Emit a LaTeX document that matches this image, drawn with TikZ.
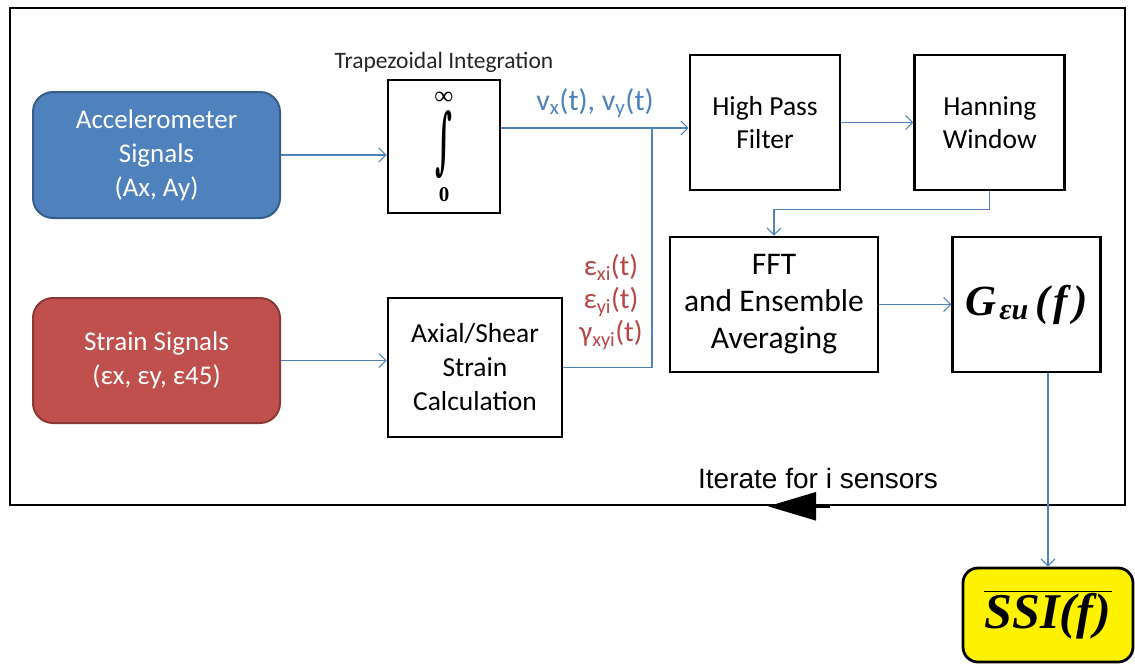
\documentclass[tikz,border=0pt]{standalone}
\usepackage{fontspec}
\setmainfont{Carlito}
\newfontfamily\arialfont{Liberation Sans}
\newfontfamily\timesfont{Liberation Serif}
\newfontfamily\intfont{DejaVu Serif}
\usetikzlibrary{positioning,arrows.meta,calc}
\definecolor{flowblue}{RGB}{79,129,189}
\definecolor{accfill}{RGB}{79,129,189}
\definecolor{accdraw}{RGB}{56,93,138}
\definecolor{strainfill}{RGB}{192,80,77}
\definecolor{straindraw}{RGB}{140,56,53}
\definecolor{labelred}{RGB}{185,70,70}
\tikzstyle{block}=[draw=black, line width=2.8pt, align=center, inner sep=0pt,
    font=\fontsize{27.5}{33}\selectfont]
\tikzstyle{signal}=[rounded corners=20pt, line width=2pt, text=white, align=center,
    inner sep=0pt, minimum width=247pt, font=\fontsize{27}{34}\selectfont]
\tikzstyle{flow}=[draw=flowblue, line width=1.1pt, -{Straight Barb[length=7pt,width=14pt]}]
\newcommand{\sigsub}[2]{#1\textsubscript{#2}(t)}
\newcommand{\trapint}{{\fontsize{26}{0}\selectfont ∞}\\[6pt]\resizebox{17pt}{68pt}{\intfont\bfseries\raisebox{\depth}{∫}}\\[7pt]0}

\begin{document}
\begin{tikzpicture}[x=1pt, y=-1pt]
    \useasboundingbox (0,0) rectangle (1135,667);
    % outer loop frame
    \node[draw=black, line width=2.6pt, minimum width=1115pt, minimum height=497pt] (loop) at (567.5,256.5) {};

    % inputs
    \node[signal, fill=accfill, draw=accdraw, minimum height=126pt] (acc) at (156.5,155)
        {Accelerometer\\Signals\\(Ax, Ay)};
    \node[signal, fill=strainfill, draw=straindraw, minimum height=125pt] (strain) at (156.5,360.5)
        {Strain Signals\\(εx, εy, ε45)};

    % processing blocks
    \node[block, minimum width=112pt, minimum height=133pt,
        font=\timesfont\bfseries\fontsize{21}{0}\selectfont] (integ) at (444,146.5) {\trapint};
    \node[above=3pt of integ, font=\fontsize{23.5}{26}\selectfont, text=black!85] (trap) {Trapezoidal Integration};
    \node[block, minimum width=174pt, minimum height=139pt, font=\fontsize{27.5}{34}\selectfont] (axial) at (475,367.5)
        {Axial/Shear\\Strain\\Calculation};
    \node[block, minimum width=150pt, minimum height=135pt] (hp) at (765,122.5) {High Pass\\Filter};
    \node[block, minimum width=150pt, minimum height=135pt, right=72pt of hp] (hw) {Hanning\\Window};
    \node[block, minimum width=208pt, minimum height=135pt, font=\fontsize{31.5}{37}\selectfont] (fft) at (774,304.5)
        {FFT\\and Ensemble\\Averaging};
    \node[block, minimum width=148pt, minimum height=135pt, right=72pt of fft] (g)
        {\timesfont\bfseries\itshape\fontsize{43}{43}\selectfont G\kern3pt\raisebox{-4pt}{\fontsize{30}{30}\selectfont εu}\kern7pt(\kern4pt f\kern6pt)};
    \node[block, fill=yellow, rounded corners=15pt, minimum width=170pt, minimum height=94pt] (ssi) at (1048,615)
        {\timesfont\bfseries\itshape\fontsize{50}{50}\selectfont$\overline{\hbox{SSI(f\kern2pt)}}$};

    % signal labels
    \coordinate (join) at (652,128);
    \node[text=flowblue, font=\fontsize{30}{34}\selectfont] (vlab) at (595,103)
        {\sigsub{v}{x}, \sigsub{v}{y}};
    \node[text=labelred, align=center, font=\fontsize{29}{33}\selectfont] (elab) at (611,302)
        {\sigsub{ε}{xi}\\\sigsub{ε}{yi}\\\sigsub{γ}{xyi}};

    % connectors
    \draw[flow] (acc.east) -- (acc.east -| integ.west);
    \draw[flow] (strain.east) -- (strain.east -| axial.west);
    \draw[flow] (integ.east |- join) -- (join) -- (join -| hp.west);
    \draw[flow, -] (axial.east) -| (join);
    \draw[flow] (hp.east) -- (hw.west);
    \draw[flow] (hw.south) -- ++(0,18) -| (fft.north);
    \draw[flow] (fft) -- (g);
    \draw[flow] (g.south -| ssi.north) -- (ssi.north);

    % iteration
    \node[font=\arialfont\fontsize{28}{32}\selectfont] (iter) at (818,478) {Iterate for i sensors};
    \coordinate (iterA) at (loop.south -| 830,0);
    \coordinate (iterB) at (loop.south -| 768,0);
    \draw[line width=2.6pt, -{Triangle[length=48pt,width=28pt]}] (iterA) -- (iterB);
\end{tikzpicture}
\end{document}
